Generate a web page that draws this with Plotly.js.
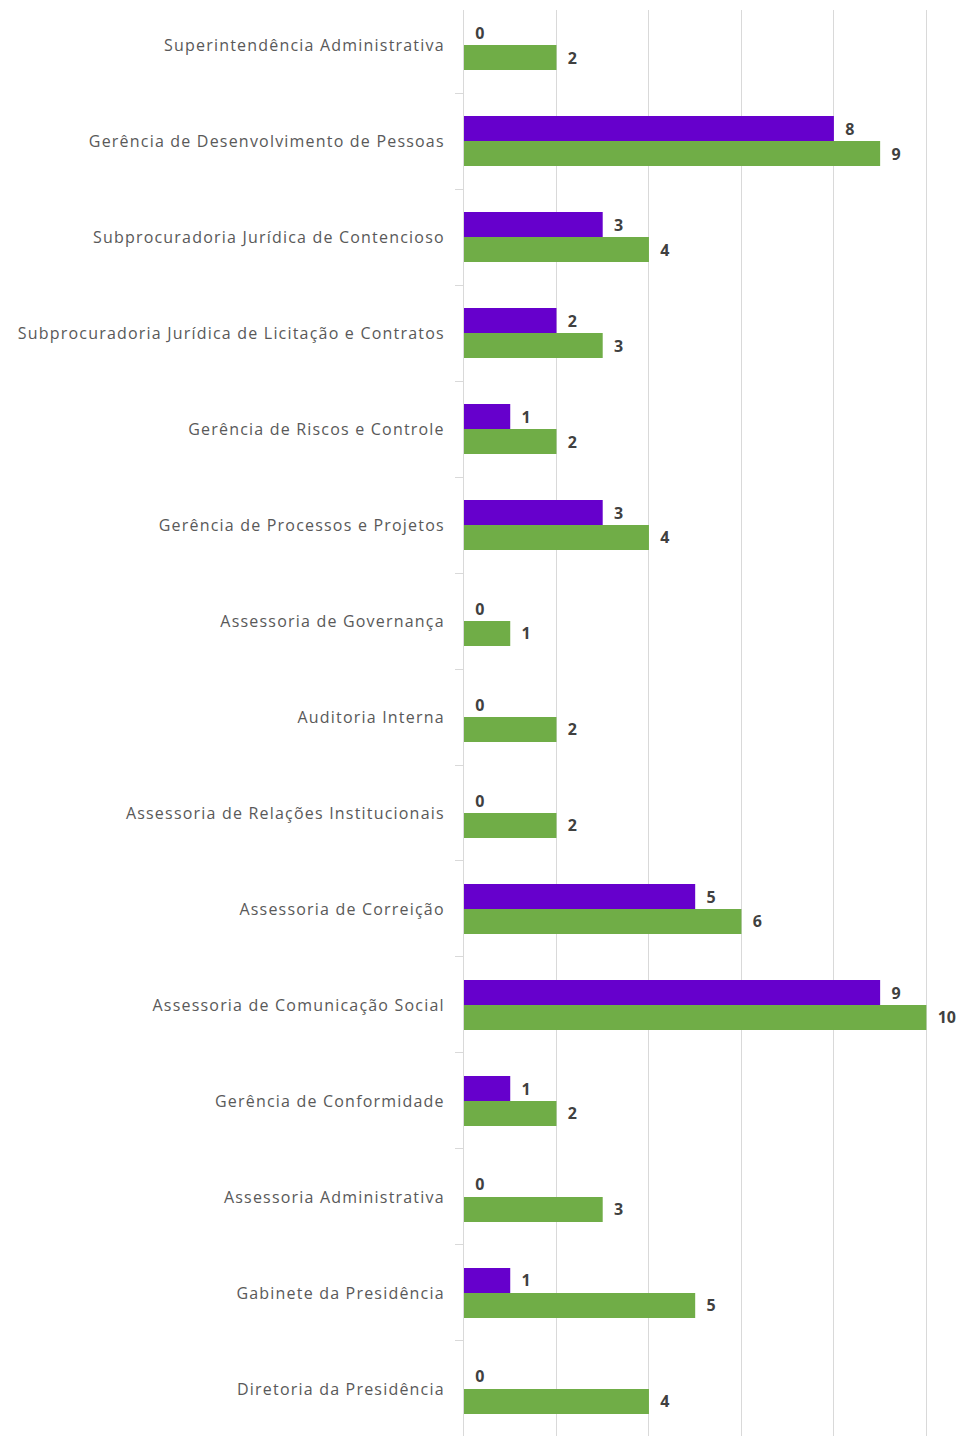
<!DOCTYPE html>
<html>
<head>
<meta charset="utf-8">
<script src="https://cdn.plot.ly/plotly-3.0.1.min.js"></script>
<style>
html,body{margin:0;padding:0;background:#fff;}
#chart{width:963px;height:1436px;}
#chart .ytick text{letter-spacing:1.2px;}
</style>
</head>
<body>
<div id="chart"></div>
<script>
const categories = [
  "Superintendência Administrativa",
  "Gerência de Desenvolvimento de Pessoas",
  "Subprocuradoria Jurídica de Contencioso",
  "Subprocuradoria Jurídica de Licitação e Contratos",
  "Gerência de Riscos e Controle",
  "Gerência de Processos e Projetos",
  "Assessoria de Governança",
  "Auditoria Interna",
  "Assessoria de Relações Institucionais",
  "Assessoria de Correição",
  "Assessoria de Comunicação Social",
  "Gerência de Conformidade",
  "Assessoria Administrativa",
  "Gabinete da Presidência",
  "Diretoria da Presidência"
];
const purpleValues = [0, 8, 3, 2, 1, 3, 0, 0, 0, 5, 9, 1, 0, 1, 0];
const greenValues  = [2, 9, 4, 3, 2, 4, 1, 2, 2, 6, 10, 2, 3, 5, 4];
const xTicks = [0, 2, 4, 6, 8, 10];

const labelFont = {family: "Open Sans, sans-serif", size: 16, color: "#404040", weight: "bold"};

function barTrace(vals, color) {
  return {
    type: "bar",
    orientation: "h",
    y: categories,
    x: vals,
    marker: {color: color, line: {width: 0}},
    text: vals.map(v => "\u00a0\u00a0" + v),
    texttemplate: "%{text}",
    textposition: "outside",
    textfont: labelFont,
    cliponaxis: false,
    constraintext: "none",
    hoverinfo: "skip"
  };
}

const data = [barTrace(purpleValues, "#6600CC"), barTrace(greenValues, "#70AD47")];

const n = categories.length;
const layout = {
  width: 963,
  height: 1436,
  margin: {l: 464, r: 32, t: 10, b: 0, pad: 0},
  paper_bgcolor: "#ffffff",
  plot_bgcolor: "#ffffff",
  showlegend: false,
  barmode: "group",
  bargap: 0.48,
  bargroupgap: 0,
  xaxis: {
    range: [0, 10.1],
    tickvals: xTicks,
    showticklabels: false,
    showgrid: true,
    gridcolor: "#d9d9d9",
    gridwidth: 1,
    zeroline: false,
    showline: false,
    fixedrange: true
  },
  yaxis: {
    type: "category",
    range: [n - 0.51, -0.365],
    showgrid: false,
    zeroline: false,
    showline: true,
    linecolor: "#d9d9d9",
    linewidth: 1,
    ticks: "outside",
    tickson: "boundaries",
    ticklen: 8,
    tickcolor: "#d9d9d9",
    tickwidth: 1,
    ticklabelstandoff: 15,
    tickfont: {family: "Open Sans, sans-serif", size: 16, color: "#595959"},
    fixedrange: true
  }
};

Plotly.newPlot("chart", data, layout, {displayModeBar: false, staticPlot: true});
</script>
</body>
</html>
